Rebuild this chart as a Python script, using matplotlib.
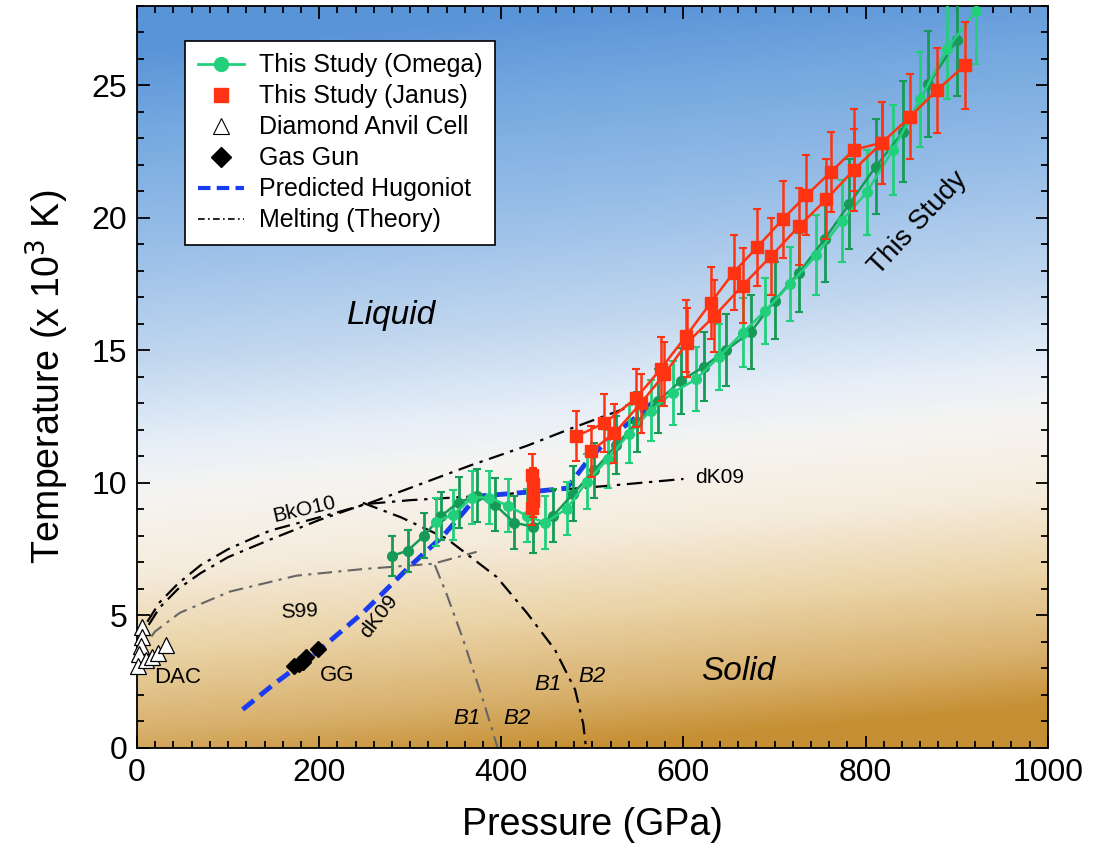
import numpy as np
import matplotlib
matplotlib.use("Agg")
import matplotlib.pyplot as plt
from matplotlib.colors import LinearSegmentedColormap
from matplotlib.lines import Line2D

plt.rcParams['font.family'] = ['Liberation Sans', 'DejaVu Sans']
NARROW = ['Liberation Sans Narrow', 'Liberation Sans', 'DejaVu Sans']

# Omega shots (two Omega series, dark and light green)
omega1_p = [280, 297, 315, 334, 353, 373, 393, 414, 435, 457, 479, 502, 526, 549,
            572, 597, 622, 647, 674, 700, 727, 755, 782, 811, 841, 869, 900]
omega1_t = [7.25, 7.44, 8.0, 8.76, 9.26, 9.52, 9.18, 8.5, 8.35, 8.76, 9.6, 10.47,
            11.42, 12.3, 13.09, 13.85, 14.38, 15.02, 15.7, 16.88, 17.94, 19.2,
            20.52, 21.93, 23.25, 25.04, 26.7]
omega1_err = [0.75, 0.8, 0.85, 0.9, 0.95, 1.0, 1.0, 1.0, 1.0, 1.0, 1.05, 1.05,
              1.1, 1.15, 1.2, 1.25, 1.3, 1.35, 1.4, 1.45, 1.5, 1.6, 1.7, 1.8,
              1.9, 2.0, 2.1]

omega2_p = [328, 347, 368, 387, 407, 428, 448, 472, 494, 517, 540, 564, 588, 614,
            639, 665, 690, 717, 746, 774, 801, 830, 860, 889, 921]
omega2_t = [8.53, 8.8, 9.45, 9.45, 9.14, 8.76, 8.5, 9.03, 10.05, 10.9, 11.85,
            12.73, 13.4, 13.92, 14.76, 15.67, 16.5, 17.5, 18.6, 19.9, 20.96,
            22.57, 24.47, 26.37, 27.8]
omega2_err = [0.9, 0.95, 1.0, 1.0, 1.0, 1.0, 1.0, 1.0, 1.05, 1.1, 1.1, 1.15,
              1.2, 1.2, 1.25, 1.3, 1.25, 1.4, 1.5, 1.55, 1.6, 1.7, 1.8, 1.9, 2.0]

# Janus shots (two Janus series plus a cluster near 435 GPa)
janus1_p = [482, 513, 548, 575, 603, 630, 655, 681, 709, 735, 762, 787, 818,
            849, 878, 909]
janus1_t = [11.76, 12.25, 13.2, 14.3, 15.55, 16.8, 17.94, 18.9, 19.95, 20.86,
            21.74, 22.57, 22.84, 23.82, 24.81, 25.76]
janus1_err = [0.95, 1.1, 1.1, 1.2, 1.35, 1.35, 1.4, 1.45, 1.45, 1.5, 1.5, 1.55,
              1.55, 1.6, 1.6, 1.65]

janus2_p = [498, 524, 553, 579, 604, 634, 665, 696, 727, 757, 787, 818]
janus2_t = [11.19, 11.87, 13.0, 14.1, 15.29, 16.3, 17.45, 18.55, 19.69, 20.71,
            21.81, 22.84]
janus2_err = [0.95, 1.1, 1.1, 1.2, 1.3, 1.35, 1.4, 1.45, 1.45, 1.5, 1.55, 1.55]

janus3_p = [434, 435, 435, 435, 434]
janus3_t = [10.3, 9.95, 9.6, 9.3, 9.05]
janus3_err = [0.8, 0.6, 0.6, 0.6, 0.65]

# Diamond anvil cell and gas gun
dac_p = [6, 6, 4, 2, 1, 10, 16, 23, 32]
dac_t = [4.55, 4.2, 3.85, 3.55, 3.1, 3.3, 3.45, 3.6, 3.9]

gg_p = [172, 178, 182, 186, 199]
gg_t = [3.1, 3.15, 3.25, 3.45, 3.75]
gg_err = [0.12, 0.12, 0.12, 0.12, 0.15]

# Predicted Hugoniot
hug_p = [116, 150, 197, 248, 300, 336, 360, 373, 393, 428, 472, 494, 519, 545, 565]
hug_t = [1.45, 2.4, 3.6, 5.1, 6.87, 8.0, 8.95, 9.5, 9.55, 9.65, 9.8, 10.8, 11.7,
         12.4, 13.0]

# Melting curves (theory)
bko_p = [1, 5, 12, 25, 45, 70, 100, 146, 200, 252, 303, 366, 428, 480, 535]
bko_t = [3.6, 4.2, 4.8, 5.5, 6.2, 6.9, 7.5, 8.2, 8.7, 9.2, 9.85, 10.66, 11.4,
         12.1, 12.8]
bko_b1b2_p = [248, 290, 340, 395, 428, 459, 481, 490, 493]
bko_b1b2_t = [9.25, 8.7, 7.9, 6.45, 5.1, 3.7, 2.2, 0.9, 0.0]

dk_p = [1, 5, 12, 25, 45, 70, 100, 146, 200, 250, 300, 373, 450, 520, 600]
dk_t = [3.5, 4.0, 4.6, 5.3, 6.0, 6.6, 7.2, 7.86, 8.6, 9.2, 9.35, 9.5, 9.7, 9.9, 10.15]

s99_p = [1, 7, 20, 47, 102, 175, 248, 325, 373]
s99_t = [3.2, 3.8, 4.4, 5.1, 5.9, 6.5, 6.75, 6.95, 7.4]
s99_b1b2_p = [327, 340, 358, 380, 396]
s99_b1b2_t = [6.9, 5.8, 4.1, 1.8, 0.0]

DARK_GREEN = '#169b57'
LIGHT_GREEN = '#22d07c'
RED = '#ff3311'
BLUE = '#1a3cf0'
DASHDOT = (0, (7, 3, 1.5, 3))

fig = plt.figure(figsize=(10.96, 8.48), dpi=100)
ax = fig.add_axes([0.125, 0.118, 0.831, 0.875])

# background: blue sky above, warm sand below, slight diagonal tilt
stops = [(0.0, '#c68f33'), (2 / 28, '#d8b06c'), (5 / 28, '#ead3a6'),
         (8 / 28, '#f5ebdb'), (11 / 28, '#f6f5f2'), (13 / 28, '#e6eef8'),
         (16 / 28, '#c3d8ef'), (20 / 28, '#9dc1e9'), (25 / 28, '#74a8df'),
         (1.0, '#5a94d8')]
bg = LinearSegmentedColormap.from_list('bg', stops)
pp, tt = np.meshgrid(np.linspace(0, 1000, 300), np.linspace(0, 28, 300))
s = tt - 1.5 * (pp - 500) / 500
ax.imshow(s, extent=[0, 1000, 0, 28], origin='lower', aspect='auto',
          cmap=bg, vmin=0, vmax=28, interpolation='bilinear', zorder=0)

# melting curves
ax.plot(bko_p, bko_t, color='black', lw=1.6, ls=DASHDOT, zorder=2)
ax.plot(bko_b1b2_p, bko_b1b2_t, color='black', lw=1.6, ls=DASHDOT, zorder=2)
ax.plot(dk_p, dk_t, color='black', lw=1.6, ls=DASHDOT, zorder=2)
ax.plot(s99_p, s99_t, color='#666666', lw=1.5, ls=DASHDOT, zorder=2)
ax.plot(s99_b1b2_p, s99_b1b2_t, color='#666666', lw=1.5, ls=DASHDOT, zorder=2)

# predicted Hugoniot
ax.plot(hug_p, hug_t, color=BLUE, lw=3.5, ls=(0, (3, 1.6)), zorder=3)

# Omega data
for p, t, e, c in [(omega1_p, omega1_t, omega1_err, DARK_GREEN),
                   (omega2_p, omega2_t, omega2_err, LIGHT_GREEN)]:
    ax.errorbar(p, t, yerr=e, fmt='-o', color=c, ms=7, lw=1.8, elinewidth=2,
                capsize=3, capthick=1.5, zorder=4)

# Janus data
for p, t, e in [(janus1_p, janus1_t, janus1_err), (janus2_p, janus2_t, janus2_err)]:
    ax.errorbar(p, t, yerr=e, fmt='-s', color=RED, ms=9, lw=1.8, elinewidth=1.8,
                capsize=3, capthick=1.5, zorder=5)
ax.errorbar(janus3_p, janus3_t, yerr=janus3_err, fmt='s', color=RED, ms=9,
            elinewidth=1.8, capsize=3, capthick=1.5, zorder=5)

# DAC and gas gun
ax.plot(dac_p, dac_t, '^', ms=11, mfc='white', mec='black', mew=0.9, zorder=6,
        clip_on=False)
ax.errorbar(gg_p, gg_t, yerr=gg_err, fmt='D', color='black', ms=8, capsize=2,
            zorder=6)

# text labels
ax.text(280, 16.3, 'Liquid', fontsize=24, style='italic', ha='center', va='center')
ax.text(660, 2.9, 'Solid', fontsize=24, style='italic', ha='center', va='center')
ax.text(858, 19.8, 'This Study', fontsize=20, rotation=47, ha='center', va='center')
ax.text(184, 9.0, 'BkO10', fontsize=15, rotation=13, ha='center', va='center')
ax.text(178, 5.15, 'S99', fontsize=15, rotation=3, ha='center', va='center')
ax.text(266, 4.95, 'dK09', fontsize=15, rotation=52, ha='center', va='center')
ax.text(640, 10.2, 'dK09', fontsize=15, ha='center', va='center')
ax.text(45, 2.65, 'DAC', fontsize=16, ha='center', va='center')
ax.text(220, 2.75, 'GG', fontsize=16, ha='center', va='center')
ax.text(362, 1.1, 'B1', fontsize=16, style='italic', ha='center', va='center')
ax.text(417, 1.1, 'B2', fontsize=16, style='italic', ha='center', va='center')
ax.text(451, 2.4, 'B1', fontsize=16, style='italic', ha='center', va='center')
ax.text(499, 2.7, 'B2', fontsize=16, style='italic', ha='center', va='center')

ax.set_xlim(0, 1000)
ax.set_ylim(0, 28)
ax.set_xticks(range(0, 1001, 200))
ax.set_xticks(range(0, 1001, 20), minor=True)
ax.set_yticks(range(0, 26, 5))
ax.set_yticks(range(0, 29, 1), minor=True)
ax.tick_params(which='both', direction='in', top=True, right=True, width=1.3)
ax.tick_params(which='major', length=9, labelsize=23, pad=7)
ax.tick_params(which='minor', length=5)
for lab in ax.get_xticklabels() + ax.get_yticklabels():
    lab.set_family(NARROW)
for sp in ax.spines.values():
    sp.set_linewidth(1.3)

ax.set_xlabel('Pressure (GPa)', fontsize=27, family=NARROW, labelpad=14)
ax.set_ylabel('Temperature (x 10$^{3}$ K)', fontsize=27, family=NARROW, labelpad=15)

handles = [
    Line2D([], [], color=LIGHT_GREEN, marker='o', ms=10, lw=2),
    Line2D([], [], color=RED, marker='s', ms=10, ls='none'),
    Line2D([], [], color='black', marker='^', mfc='white', ms=11, mew=0.8, ls='none'),
    Line2D([], [], color='black', marker='D', ms=10, ls='none'),
    Line2D([], [], color=BLUE, lw=3, ls=(0, (3, 1.5))),
    Line2D([], [], color='black', lw=1.2, ls=(0, (4, 2, 1, 2))),
]
labels = ['This Study (Omega)', 'This Study (Janus)', 'Diamond Anvil Cell',
          'Gas Gun', 'Predicted Hugoniot', 'Melting (Theory)']
leg = ax.legend(handles, labels, loc='upper left', bbox_to_anchor=(0.053, 0.953),
                fontsize=18, frameon=True, fancybox=False, framealpha=1,
                edgecolor='black', handlelength=1.85, handletextpad=0.6,
                labelspacing=0.28, borderpad=0.5, borderaxespad=0)
leg.get_frame().set_linewidth(1.2)
leg.set_zorder(10)

fig.savefig('out.png', dpi=100)
